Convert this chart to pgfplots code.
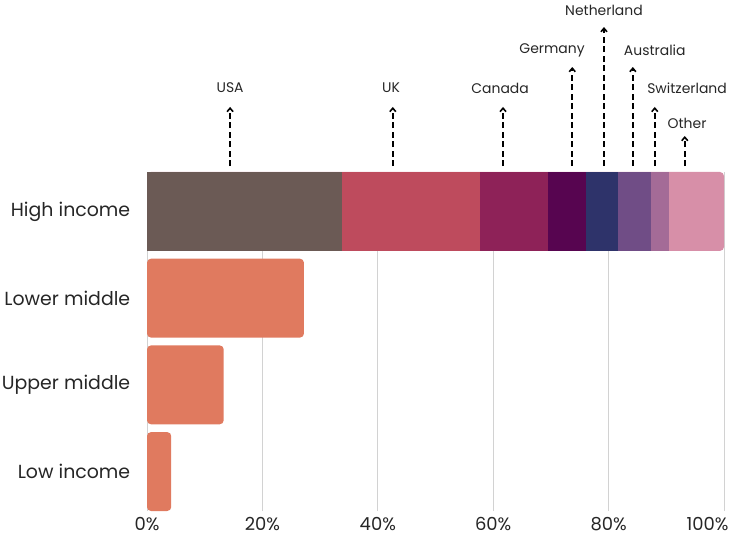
\documentclass[border=0pt]{standalone}
\usepackage{pgfplots}
\pgfplotsset{compat=1.18}
\usepackage{fontspec}
\setmainfont{Poppins}
\usetikzlibrary{arrows.meta}
\definecolor{cUSA}{RGB}{107,90,85}
\definecolor{cUK}{RGB}{190,75,93}
\definecolor{cCanada}{RGB}{142,34,88}
\definecolor{cGermany}{RGB}{87,5,80}
\definecolor{cNeth}{RGB}{46,51,106}
\definecolor{cAus}{RGB}{112,77,134}
\definecolor{cSwiss}{RGB}{164,107,151}
\definecolor{cOther}{RGB}{215,143,168}
\definecolor{cOrange}{RGB}{224,122,95}
\begin{document}
\begin{tikzpicture}
\path[use as bounding box] (0,0) rectangle (750bp,539bp);
\begin{axis}[
  at={(147bp,28bp)}, anchor=south west,
  width=577bp, height=339bp, scale only axis,
  xbar, bar width=0.91, bar shift=0pt,
  xmin=0, xmax=100, ymin=-0.455, ymax=3.455,
  xtick={0,20,40,60,80},
  xticklabels={0\%,20\%,40\%,60\%,80\%},
  extra x ticks={100},
  extra x tick labels={100\%},
  extra x tick style={grid=major, xticklabel style={anchor=north east, xshift=8bp}},
  ytick={0,1,2,3},
  yticklabels={Low income,Upper middle,Lower middle,High income},
  xmajorgrids, grid style={gray!35, line width=0.8bp},
  axis line style={draw=none},
  tick style={draw=none},
  ticklabel style={text=black!85},
  xticklabel style={font=\fontsize{18}{20}\selectfont, yshift=-3bp},
  yticklabel style={font=\fontsize{19}{22}\selectfont, xshift=-9bp},
  clip=false,
]
% other income groups
\addplot[fill=cOrange, draw=none, rounded corners=4bp] coordinates {(4.2,0) (13.3,1) (27.2,2)};
% High income: cumulative share up to the end of each destination segment
\addplot[fill=cOther, draw=none, rounded corners=4bp] coordinates {(100,3)};
\addplot[fill=cSwiss, draw=none] coordinates {(90.4,3)};
\addplot[fill=cAus, draw=none] coordinates {(87.3,3)};
\addplot[fill=cNeth, draw=none] coordinates {(81.7,3)};
\addplot[fill=cGermany, draw=none] coordinates {(76.1,3)};
\addplot[fill=cCanada, draw=none] coordinates {(69.5,3)};
\addplot[fill=cUK, draw=none] coordinates {(57.7,3)};
\addplot[fill=cUSA, draw=none] coordinates {(33.8,3)};
% annotations
\tikzset{ann/.style={draw=black, line width=1.6bp, dash pattern=on 6bp off 3.5bp, -{Straight Barb[length=3.5bp,width=6bp]}},
  lab/.style={font=\fontsize{14}{16}\selectfont, text=black!85}}
\draw[ann] (axis cs:14.4,3.524) -- (axis cs:14.4,4.205);
\draw[ann] (axis cs:42.6,3.524) -- (axis cs:42.6,4.205);
\draw[ann] (axis cs:61.7,3.524) -- (axis cs:61.7,4.205);
\draw[ann] (axis cs:73.7,3.524) -- (axis cs:73.7,4.666);
\draw[ann] (axis cs:79.2,3.524) -- (axis cs:79.2,5.127);
\draw[ann] (axis cs:84.2,3.524) -- (axis cs:84.2,4.666);
\draw[ann] (axis cs:88.0,3.524) -- (axis cs:88.0,4.205);
\draw[ann] (axis cs:93.2,3.524) -- (axis cs:93.2,3.870);
\node[lab] at (axis cs:14.4,4.424) {USA};
\node[lab] at (axis cs:42.3,4.424) {UK};
\node[lab] at (axis cs:61.2,4.424) {Canada};
\node[lab] at (axis cs:70.2,4.862) {Germany};
\node[lab] at (axis cs:79.2,5.323) {Netherland};
\node[lab] at (axis cs:88.0,4.862) {Australia};
\node[lab] at (axis cs:93.6,4.424) {Switzerland};
\node[lab] at (axis cs:93.6,4.020) {Other};
\end{axis}
\end{tikzpicture}
\end{document}
